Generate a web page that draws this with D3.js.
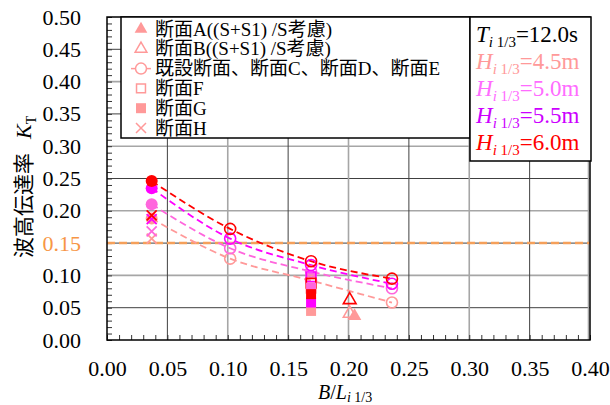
<!DOCTYPE html>
<html>
<head>
<meta charset="utf-8">
<script src="https://cdn.jsdelivr.net/npm/d3@7"></script>
<style>
    body { margin: 0; background: #fff; }
    svg { display: block; }
    text { font-family: "Liberation Serif", "Times New Roman", "Noto Sans CJK JP", serif; }
    .jp { font-family: "Noto Sans CJK JP", sans-serif; }
</style>
</head>
<body>
<div id="chart"></div>
<script>
// Wave heights and their colours
var waveHeights = ['4.5m', '5.0m', '5.5m', '6.0m'];
var seriesColors = ['#ff9999', '#ff66dd', '#ff00ff', '#ff0000'];
var labelColors = ['#ff9999', '#ff6cff', '#cc00ff', '#ff0000'];

// Existing section (first point) and sections C, D, E
var existingX = [0.037, 0.102, 0.169, 0.236];
var existingK45 = [0.188, 0.126, 0.092, 0.058];
var existingK50 = [0.210, 0.142, 0.106, 0.080];
var existingK55 = [0.235, 0.157, 0.116, 0.087];
var existingK60 = [0.246, 0.172, 0.122, 0.095];

// Other sections, one value per wave height (null = not plotted)
var sectionAX = 0.205, sectionAK = [0.037, null, null, null];
var sectionBX = 0.201, sectionBK = [0.041, null, null, 0.062];
var sectionFX = 0.169, sectionFK = [0.080, 0.095, 0.098, 0.088];
var sectionGX = 0.169, sectionGK = [0.045, 0.081, 0.058, 0.071];
var sectionHX = 0.037, sectionHK = [0.157, 0.168, 0.187, 0.193];

var targetK = 0.15;

var xTicks = [0, 0.05, 0.10, 0.15, 0.20, 0.25, 0.30, 0.35, 0.40];
var yTicks = [0, 0.05, 0.10, 0.15, 0.20, 0.25, 0.30, 0.35, 0.40, 0.45, 0.50];

var legendLabels = [
    '断面A((S+S1) /S考慮)',
    '断面B((S+S1) /S考慮)',
    '既設断面、断面C、断面D、断面E',
    '断面F',
    '断面G',
    '断面H'
];

(function(d3) {
    'use strict';

    var width = 610,
        height = 405,
        margin = {top: 17, right: 20, bottom: 65, left: 107};

    var innerWidth = width - margin.left - margin.right,
        innerHeight = height - margin.top - margin.bottom;

    var svg = d3.select('#chart').append('svg')
        .attr('width', width)
        .attr('height', height);

    var x = d3.scaleLinear().domain([0, 0.4]).range([0, innerWidth]);
    var y = d3.scaleLinear().domain([0, 0.5]).range([innerHeight, 0]);

    var chart = svg.append('g')
        .attr('transform', 'translate(' + margin.left + ',' + margin.top + ')');

    // Grid: multiples of 0.1 light grey, the 0.05 ones dark
    var isMajor = function(v) { return Math.abs(Math.round(v * 10) - v * 10) < 1e-6; };

    chart.append('g').selectAll('line')
        .data(yTicks.slice(1, -1))
        .enter().append('line')
        .attr('x1', 0).attr('x2', innerWidth)
        .attr('y1', function(d) { return y(d); })
        .attr('y2', function(d) { return y(d); })
        .attr('stroke', function(d) { return isMajor(d) ? '#a6a6a6' : '#404040'; })
        .attr('stroke-width', function(d) { return isMajor(d) ? 1.6 : 1; });

    chart.append('g').selectAll('line')
        .data(xTicks.slice(1))
        .enter().append('line')
        .attr('y1', 0).attr('y2', innerHeight)
        .attr('x1', function(d) { return x(d) - (d === 0.4 ? 1.5 : 0); })
        .attr('x2', function(d) { return x(d) - (d === 0.4 ? 1.5 : 0); })
        .attr('stroke', function(d) { return isMajor(d) ? '#a6a6a6' : '#404040'; })
        .attr('stroke-width', function(d) { return isMajor(d) ? 1.6 : 1; });

    // Minor ticks every 0.01, inside the frame
    chart.append('g')
        .call(d3.axisLeft(y).tickValues(d3.range(0, 51).map(function(i) { return i / 100; }))
            .tickSize(-5).tickFormat(''))
        .call(function(g) { g.select('.domain').remove(); })
        .selectAll('line').attr('stroke', '#333');

    chart.append('g')
        .attr('transform', 'translate(0,' + innerHeight + ')')
        .call(d3.axisBottom(x).tickValues(d3.range(0, 41).map(function(i) { return i / 100; }))
            .tickSize(-5).tickFormat(''))
        .call(function(g) { g.select('.domain').remove(); })
        .selectAll('line').attr('stroke', '#333');

    // Tick labels
    var yAxis = chart.append('g')
        .call(d3.axisLeft(y).tickValues(yTicks).tickSize(0).tickPadding(26).tickFormat(d3.format('.2f')));
    yAxis.select('.domain').remove();
    yAxis.selectAll('text')
        .style('font-family', '"Liberation Serif", serif')
        .style('font-size', '22px')
        .style('fill', function(d) { return Math.abs(d - targetK) < 1e-6 ? '#f79646' : '#000'; });

    var xAxis = chart.append('g')
        .attr('transform', 'translate(0,' + innerHeight + ')')
        .call(d3.axisBottom(x).tickValues(xTicks).tickSize(0).tickPadding(20).tickFormat(d3.format('.2f')));
    xAxis.select('.domain').remove();
    xAxis.selectAll('text')
        .style('font-family', '"Liberation Serif", serif')
        .style('font-size', '22px')
        .style('fill', '#000');

    // Target line at K = 0.15
    chart.append('line')
        .attr('x1', 0).attr('x2', innerWidth)
        .attr('y1', y(targetK)).attr('y2', y(targetK))
        .attr('stroke', '#f5a05a')
        .attr('stroke-width', 2.5)
        .attr('stroke-dasharray', '8,4');

    var existingK = [existingK45, existingK50, existingK55, existingK60];

    // Dashed lines through the existing section series
    var line = d3.line()
        .x(function(d) { return x(d[0]); })
        .y(function(d) { return y(d[1]); })
        .curve(d3.curveMonotoneX);

    existingK.forEach(function(ks, i) {
        chart.append('path')
            .datum(existingX.map(function(xv, j) { return [xv, ks[j]]; }))
            .attr('d', line)
            .attr('fill', 'none')
            .attr('stroke', seriesColors[i])
            .attr('stroke-width', 1.8)
            .attr('stroke-dasharray', '7,4');
    });

    var marks = chart.append('g');

    var symbolPath = function(type, size) {
        return d3.symbol().type(type).size(size)();
    };

    var crossPath = 'M-5,-5L5,5M-5,5L5,-5';

    // Points of one section, one per wave height
    var drawSection = function(xv, ks, shape, filled, sw) {
        ks.forEach(function(k, i) {
            if (k === null) {
                return;
            }
            var p = marks.append('path')
                .attr('transform', 'translate(' + x(xv) + ',' + y(k) + ')')
                .attr('d', shape);
            if (filled) {
                p.attr('fill', seriesColors[i]).attr('stroke', 'none');
            } else {
                p.attr('fill', 'none').attr('stroke', seriesColors[i]).attr('stroke-width', sw || 1.6);
            }
        });
    };

    // Existing section: filled; C, D, E: hollow circles
    existingK.forEach(function(ks, i) {
        ks.forEach(function(k, j) {
            marks.append('circle')
                .attr('cx', x(existingX[j]))
                .attr('cy', y(k))
                .attr('r', j === 0 ? 6 : 5.5)
                .attr('fill', j === 0 ? seriesColors[i] : 'none')
                .attr('stroke', j === 0 ? 'none' : seriesColors[i])
                .attr('stroke-width', 1.6);
        });
    });

    drawSection(sectionHX, sectionHK, crossPath, false, 1.8);
    drawSection(sectionFX, sectionFK, symbolPath(d3.symbolSquare, 90), false);
    drawSection(sectionGX, sectionGK, symbolPath(d3.symbolSquare, 100), true);
    drawSection(sectionBX, sectionBK, symbolPath(d3.symbolTriangle, 70), false);
    drawSection(sectionAX, sectionAK, symbolPath(d3.symbolTriangle, 80), true);

    // Plot frame
    chart.append('rect')
        .attr('width', innerWidth)
        .attr('height', innerHeight)
        .attr('fill', 'none')
        .attr('stroke', '#000')
        .attr('stroke-width', 1.5);

    // Legend box
    var legend = svg.append('g').attr('transform', 'translate(121,' + margin.top + ')');
    legend.append('rect')
        .attr('width', 349).attr('height', 121)
        .attr('fill', '#fff').attr('stroke', '#000').attr('stroke-width', 1.5);

    var legendColor = seriesColors[0];
    var legendShapes = [
        {d: symbolPath(d3.symbolTriangle, 70), filled: true},
        {d: symbolPath(d3.symbolTriangle, 60), filled: false},
        {circle: true},
        {d: symbolPath(d3.symbolSquare, 80), filled: false},
        {d: symbolPath(d3.symbolSquare, 100), filled: true},
        {d: crossPath, filled: false}
    ];

    legendLabels.forEach(function(label, i) {
        var row = legend.append('g').attr('transform', 'translate(20,' + (12 + i * 19.8) + ')');
        var s = legendShapes[i];
        if (s.circle) {
            row.append('line').attr('x1', -10).attr('x2', 10)
                .attr('stroke', legendColor).attr('stroke-width', 1.5);
            row.append('circle').attr('r', 5.5)
                .attr('fill', '#fff').attr('stroke', legendColor).attr('stroke-width', 1.5);
        } else {
            row.append('path').attr('d', s.d)
                .attr('fill', s.filled ? legendColor : 'none')
                .attr('stroke', s.filled ? 'none' : legendColor)
                .attr('stroke-width', 1.5);
        }
        row.append('text')
            .attr('x', 14)
            .attr('y', 6.5)
            .style('font-size', '19px')
            .style('fill', '#000')
            .text(label);
    });

    // Wave condition box
    var cond = svg.append('g').attr('transform', 'translate(470,' + margin.top + ')');
    cond.append('rect')
        .attr('width', 121).attr('height', 144)
        .attr('fill', '#fff').attr('stroke', '#000').attr('stroke-width', 1.5);

    var condRows = [{v: 'T', val: '=12.0s', color: '#000'}].concat(waveHeights.map(function(h, i) {
        return {v: 'H', val: '=' + h, color: labelColors[i]};
    }));

    condRows.forEach(function(r, i) {
        var t = cond.append('text')
            .attr('x', 6)
            .attr('y', 25 + i * 27)
            .style('fill', r.color)
            .style('font-size', '23px');
        t.append('tspan').style('font-style', 'italic').text(r.v);
        t.append('tspan').attr('dy', 5).style('font-size', '15px').style('font-style', 'italic').text('i');
        t.append('tspan').style('font-size', '15px').text(' 1/3');
        t.append('tspan').attr('dy', -5).text(r.val);
    });

    // Axis titles
    var yTitle = svg.append('text')
        .attr('transform', 'translate(31,258) rotate(-90)')
        .style('font-size', '21px')
        .style('fill', '#000');
    yTitle.append('tspan').attr('class', 'jp').text('波高伝達率');
    yTitle.append('tspan').attr('dx', 14).style('font-style', 'italic').style('font-size', '22px').text('K');
    yTitle.append('tspan').attr('dy', 5).style('font-size', '14px').text('T');

    var xTitle = svg.append('text')
        .attr('x', 318)
        .attr('y', 399)
        .style('font-size', '20px')
        .style('fill', '#000');
    xTitle.append('tspan').style('font-style', 'italic').text('B');
    xTitle.append('tspan').text('/');
    xTitle.append('tspan').style('font-style', 'italic').text('L');
    xTitle.append('tspan').attr('dy', 3).style('font-size', '14px').style('font-style', 'italic').text('i');
    xTitle.append('tspan').style('font-size', '14px').text(' 1/3');
}(d3));
</script>
</body>
</html>
